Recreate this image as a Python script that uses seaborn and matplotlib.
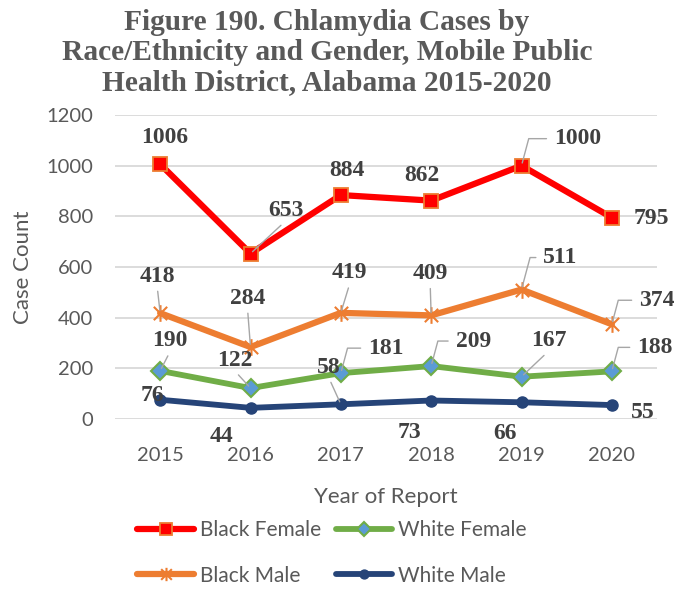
import matplotlib
matplotlib.use("Agg")
import matplotlib.pyplot as plt
from matplotlib.path import Path
import seaborn as sns
import pandas as pd

years = [2015, 2016, 2017, 2018, 2019, 2020]
black_female = [1006, 653, 884, 862, 1000, 795]
black_male = [418, 284, 419, 409, 511, 374]
white_female = [190, 122, 181, 209, 167, 188]
white_male = [76, 44, 58, 73, 66, 55]
y_ticks = [0, 200, 400, 600, 800, 1000, 1200]

title_lines = ["Figure 190. Chlamydia Cases by",
               "Race/Ethnicity and Gender, Mobile Public",
               "Health District, Alabama 2015-2020"]

sns.set_theme(style="white")
plt.rcParams["font.family"] = ["Lato", "DejaVu Sans"]

fig = plt.figure(figsize=(6.77, 5.89), dpi=100)
ax = fig.add_axes([115 / 677, 1 - 419 / 589, 542 / 677, 304 / 589])

# Excel-style star marker: an X crossed by a vertical stroke
star = Path([(-1, -1), (1, 1), (-1, 1), (1, -1), (0, -1.25), (0, 1.25)],
            [Path.MOVETO, Path.LINETO, Path.MOVETO, Path.LINETO,
             Path.MOVETO, Path.LINETO])

series = [
    ("Black Female", black_female,
     dict(color="#FF0000", marker="s", markersize=10, markerfacecolor="#FF0000",
          markeredgecolor="#ED7D31", markeredgewidth=1.3, linewidth=4.5)),
    ("Black Male", black_male,
     dict(color="#ED7D31", marker=star, markersize=12, markerfacecolor="none",
          markeredgecolor="#ED7D31", markeredgewidth=1.5, linewidth=4.5)),
    ("White Female", white_female,
     dict(color="#70AD47", marker="D", markersize=9.5, markerfacecolor="#5B9BD5",
          markeredgecolor="#70AD47", markeredgewidth=1.5, linewidth=4.2)),
    ("White Male", white_male,
     dict(color="#264478", marker="o", markersize=8, markerfacecolor="#264478",
          markeredgecolor="#264478", markeredgewidth=1, linewidth=4.2)),
]

draw_order = ["White Male", "White Female", "Black Male", "Black Female"]
z = {name: 3 + i for i, name in enumerate(draw_order)}
for name, vals, kw in series:
    df = pd.DataFrame({"Year": years, "Cases": vals})
    sns.lineplot(data=df, x="Year", y="Cases", ax=ax, label=name,
                 zorder=z[name], **kw)

# label offsets in pixels (dx, dy) and leader-line style
labels = {
    "Black Female": [(5, 27, None), (35, 43, "s"), (6, 25, None), (-9, 25, None),
                     (56, 27, "e"), (40, -1, None)],
    "Black Male": [(-3, 37, "s"), (-3, 49, "s"), (9, 40, "s"), (-1, 42, "s"),
                   (39, 32, "e"), (45, 24, "e")],
    "White Female": [(10, 30, "s"), (-16, 28, "s"), (45, 25, "e"), (42, 25, "e"),
                     (27, 36, "s"), (43, 24, "e")],
    "White Male": [(-8, 4, None), (-29, -29, None), (-12, 37, "s"),
                   (-22, -32, None), (-16, -31, None), (31, -7, None)],
}
vals_by_name = {name: vals for name, vals, _ in series}
for name, offs in labels.items():
    for yr, v, (dx, dy, leader) in zip(years, vals_by_name[name], offs):
        arrow = None
        if leader == "s":
            arrow = dict(arrowstyle="-", color="#A6A6A6", lw=1,
                         shrinkA=1, shrinkB=2, relpos=(0.5, 0))
        elif leader == "e":
            arrow = dict(arrowstyle="-", color="#A6A6A6", lw=1,
                         shrinkA=3, shrinkB=2, relpos=(0, 0.5),
                         connectionstyle="angle,angleA=0,angleB=75,rad=0")
        ax.annotate(str(v), xy=(yr, v), xytext=(dx, dy),
                    textcoords="offset pixels", ha="center", va="center",
                    fontsize=17, fontweight="bold", color="#404040",
                    family=["Liberation Serif", "DejaVu Serif"],
                    arrowprops=arrow, zorder=10)

ax.set_xlim(2014.5, 2020.5)
ax.set_ylim(0, 1200)
ax.set_xticks(years)
ax.set_xticklabels([str(y) for y in years])
ax.set_yticks(y_ticks)
ax.grid(axis="y", color="#D9D9D9", linewidth=1.3, zorder=0)
ax.set_axisbelow(True)
for s in ax.spines.values():
    s.set_visible(False)
ax.tick_params(axis="both", length=0, labelsize=14.5, colors="#595959")
ax.tick_params(axis="x", pad=20)
ax.tick_params(axis="y", pad=16)
ax.set_xlabel("Year of Report", fontsize=16, color="#595959", labelpad=17)
ax.set_ylabel("Case Count", fontsize=16, color="#595959", labelpad=9)

for i, line in enumerate(title_lines):
    fig.text(327 / 677, 1 - (23 + 30 * i) / 589, line, ha="center", va="center",
             fontsize=21.2, fontweight="bold", color="#595959",
             family=["Liberation Serif", "DejaVu Serif"])

ax.get_legend().remove()
handles, lbls = ax.get_legend_handles_labels()
order = ["Black Female", "Black Male", "White Female", "White Male"]
hmap = dict(zip(lbls, handles))
fig.legend([hmap[n] for n in order], order, loc="center",
           bbox_to_anchor=(332 / 677, 1 - 553 / 589), ncol=2, frameon=False,
           fontsize=15, labelcolor="#595959", handlelength=2.7,
           handletextpad=0.3, columnspacing=0.7, labelspacing=1.2,
           markerscale=0.8)

fig.savefig("out.png", dpi=100)
